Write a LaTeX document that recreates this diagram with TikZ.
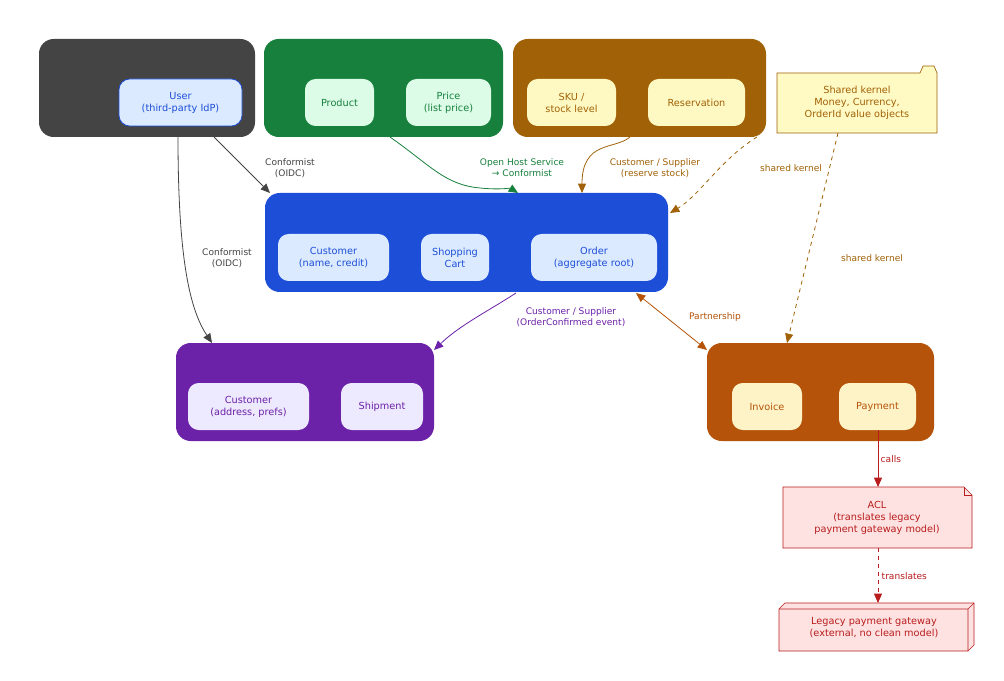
\documentclass[tikz,border=0pt]{standalone}
\usepackage{fontspec}
\setmainfont{DejaVu Sans}
\usetikzlibrary{arrows.meta,shapes.geometric,shapes.misc}
\definecolor{cdark}{HTML}{444444}
\definecolor{cgreen}{HTML}{17803D}
\definecolor{cbrown}{HTML}{A16207}
\definecolor{cblue}{HTML}{1D4ED8}
\definecolor{cpurple}{HTML}{6B21A8}
\definecolor{corange}{HTML}{B45309}
\definecolor{cred}{HTML}{B91C1C}
\definecolor{fblue}{HTML}{DBEAFE}
\definecolor{fgreen}{HTML}{DCFCE7}
\definecolor{fyellow}{HTML}{FEF9C3}
\definecolor{fpurple}{HTML}{EDE9FE}
\definecolor{forange}{HTML}{FEF3C7}
\definecolor{fred}{HTML}{FEE2E2}
\definecolor{fnote}{HTML}{FFF9C4}
\tikzset{
 x=0.75pt,y=-0.75pt,
 txt/.style={font=\fontsize{7.3}{9}\selectfont,align=center},
 stxt/.style={font=\fontsize{6.8}{8.4}\selectfont,align=center},
 clus/.style={rounded corners=11pt,draw=none,fill=#1},
 inner/.style={rounded corners=8pt,fill=#1},
 edge/.style={draw=#1,-{Triangle[length=7pt,width=6pt]},line width=0.6pt},
 lbl/.style={txt,text=#1},
 elbl/.style={stxt,text=#1},
}
\newcommand{\rbox}[6]{% name, x1,y1,x2,y2, style
 \path[#6] (#2,#3) rectangle (#4,#5);
 \coordinate (#1) at ({(#2+#4)/2},{(#3+#5)/2});}
\begin{document}
\begin{tikzpicture}
\path[fill=white] (0,0) rectangle (1004,681);
% clusters
\rbox{dark}{39}{39}{255}{137}{clus=cdark}
\rbox{green}{264}{39}{503}{137}{clus=cgreen}
\rbox{brown}{513}{39}{766}{137}{clus=cbrown}
\rbox{blue}{265}{193}{668}{292}{clus=cblue}
\rbox{purple}{176}{343}{434}{441}{clus=cpurple}
\rbox{orange}{707}{343}{934}{441}{clus=corange}
% inner
\rbox{user}{119}{79}{242}{126}{inner=fblue,draw=cblue,line width=0.6pt}
\node[lbl=cblue] at (user) {User\\(third-party IdP)};
\rbox{product}{305}{79}{374}{126}{inner=fgreen}
\node[lbl=cgreen] at (product) {Product};
\rbox{price}{406}{79}{491}{126}{inner=fgreen}
\node[lbl=cgreen] at (price) {Price\\(list price)};
\rbox{sku}{527}{79}{616}{126}{inner=fyellow}
\node[lbl=cbrown] at (sku) {SKU /\\stock level};
\rbox{res}{648}{79}{745}{126}{inner=fyellow}
\node[lbl=cbrown] at (res) {Reservation};
\rbox{cust}{278}{234}{389}{281}{inner=fblue}
\node[lbl=cblue] at (cust) {Customer\\(name, credit)};
\rbox{cart}{421}{234}{489}{281}{inner=fblue}
\node[lbl=cblue] at (cart) {Shopping\\Cart};
\rbox{order}{531}{234}{657}{281}{inner=fblue}
\node[lbl=cblue] at (order) {Order\\(aggregate root)};
\rbox{pcust}{188}{383}{309}{430}{inner=fpurple}
\node[lbl=cpurple] at (pcust) {Customer\\(address, prefs)};
\rbox{ship}{341}{383}{423}{430}{inner=fpurple}
\node[lbl=cpurple] at (ship) {Shipment};
\rbox{inv}{732}{383}{802}{430}{inner=forange}
\node[lbl=corange] at (inv) {Invoice};
\rbox{pay}{839}{383}{916}{430}{inner=forange}
\node[lbl=corange] at (pay) {Payment};
% folder note
\draw[fill=fnote,draw=cbrown,line width=0.5pt] (777,73)--(920,73)--(923,66)--(934,66)--(937,73)--(937,133)--(777,133)--cycle;
\node[lbl=cbrown] (kernel) at (857,103) {Shared kernel\\Money, Currency,\\OrderId value objects};
% ACL note
\draw[fill=fred,draw=cred,line width=0.5pt] (783,487)--(964,487)--(972,495)--(972,548)--(783,548)--cycle;
\draw[draw=cred,line width=0.5pt] (964,487)--(964,495)--(972,495);
\node[lbl=cred] (acl) at (877,518) {ACL\\(translates legacy\\payment gateway model)};
% legacy 3D box
\draw[fill=fred,draw=cred,line width=0.5pt] (779,609)--(785,603)--(974,603)--(974,645)--(968,651)--(779,651)--cycle;
\draw[draw=cred,line width=0.5pt] (779,609)--(968,609)--(968,651) (968,609)--(974,603);
\node[lbl=cred] (legacy) at (874,628) {Legacy payment gateway\\(external, no clean model)};
% coordinates for edge ends
\coordinate (a1) at (214,137); \coordinate (b1) at (270,193);
\coordinate (a2) at (178,137); \coordinate (b2) at (212,343);
\coordinate (a3) at (390,137); \coordinate (b3) at (518,193);
\coordinate (a4) at (630,137); \coordinate (b4) at (582,193);
\coordinate (a5) at (757,137); \coordinate (b5) at (670,213);
\coordinate (a6) at (838,133); \coordinate (b6) at (787,343);
\coordinate (a7) at (516,293); \coordinate (b7) at (434,350);
\coordinate (a8) at (636,293); \coordinate (b8) at (707,350);
\coordinate (a9) at (878,430); \coordinate (b9) at (878,487);
\coordinate (a10) at (878,548); \coordinate (b10) at (878,603);
% edges
\draw[edge=cdark] (a1)--(b1);
\node[elbl=cdark] at (290,168) {Conformist\\(OIDC)};
\draw[edge=cdark] (a2) .. controls (178,260) and (190,310) .. (b2);
\node[elbl=cdark] at (227,258) {Conformist\\(OIDC)};
\draw[edge=cgreen] (a3) .. controls (430,165) and (445,185) .. (480,188) .. controls (500,190) and (510,188) .. (b3);
\node[elbl=cgreen] at (522,168) {Open Host Service\\→ Conformist};
\draw[edge=cbrown] (a4) .. controls (615,150) and (582,140) .. (b4);
\node[elbl=cbrown] at (655,168) {Customer / Supplier\\(reserve stock)};
\draw[edge=cbrown,dashed] (a5) .. controls (720,160) and (700,195) .. (b5);
\node[elbl=cbrown] at (791,168) {shared kernel};
\draw[edge=cbrown,dashed] (a6)--(b6);
\node[elbl=cbrown] at (872,258) {shared kernel};
\draw[edge=cpurple] (a7) .. controls (490,310) and (460,325) .. (b7);
\node[elbl=cpurple] at (571,317) {Customer / Supplier\\(OrderConfirmed event)};
\draw[edge=corange,{Triangle[length=7pt,width=6pt]}-{Triangle[length=7pt,width=6pt]}] (a8)--(b8);
\node[elbl=corange] at (715,317) {Partnership};
\draw[edge=cred] (a9)--(b9);
\node[elbl=cred,anchor=west] at (876,459) {calls};
\draw[edge=cred,dashed] (a10)--(b10);
\node[elbl=cred,anchor=west] at (877,576) {translates};
\end{tikzpicture}
\end{document}
